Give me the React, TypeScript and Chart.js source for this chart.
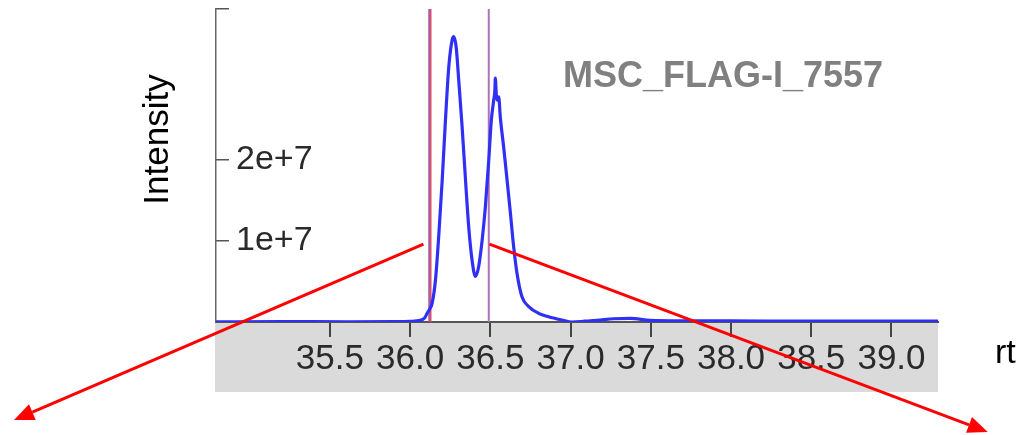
import React, { useEffect, useRef } from 'react';
import { Chart, registerables } from 'chart.js';

Chart.register(...registerables);

// ---- data ----
const RT: number[] = [
  34.79, 35.2, 35.6, 35.9, 36.0, 36.064, 36.09, 36.106, 36.122, 36.137, 36.158, 36.178, 36.2,
  36.22, 36.241, 36.262, 36.272, 36.287, 36.303, 36.324, 36.345, 36.365, 36.386, 36.407,
  36.427, 36.449, 36.469, 36.49, 36.506, 36.521, 36.528, 36.531, 36.537, 36.542, 36.552,
  36.562, 36.583, 36.604, 36.625, 36.645, 36.666, 36.697, 36.739, 36.801, 36.863, 36.946,
  37.009, 37.09, 37.164, 37.27, 37.372, 37.496, 37.683, 37.994, 38.43, 38.927, 39.29,
];
const INTENSITY: number[] = [
  0.003e7, 0.004e7, 0.003e7, 0.005e7, 0.008e7, 0.02e7, 0.05e7, 0.107e7, 0.16e7, 0.23e7, 0.52e7,
  1.05e7, 1.75e7, 2.48e7, 3.14e7, 3.47e7, 3.51e7, 3.38e7, 2.97e7, 2.4e7, 1.75e7, 1.17e7, 0.76e7,
  0.56e7, 0.68e7, 1.01e7, 1.42e7, 1.99e7, 2.48e7, 2.73e7, 2.85e7, 3.0e7, 2.8e7, 2.73e7, 2.77e7,
  2.52e7, 2.15e7, 1.75e7, 1.34e7, 0.93e7, 0.6e7, 0.31e7, 0.19e7, 0.107e7, 0.065e7, 0.025e7,
  0.0, 0.01e7, 0.02e7, 0.04e7, 0.045e7, 0.02e7, 0.015e7, 0.015e7, 0.01e7, 0.01e7, 0.01e7,
];
const X_TICKS: number[] = [35.5, 36.0, 36.5, 37.0, 37.5, 38.0, 38.5, 39.0];
const Y_TICKS: number[] = [1e7, 2e7];
const X_MIN = 34.79;
const X_MAX = 39.29;
const Y_MIN = 0;
const Y_MAX = 3.85e7;

// vertical boundary markers (retention times)
const MARKER_RT: number[] = [36.118, 36.127, 36.49];
const MARKER_COLORS: string[] = ['#a04a98', '#d8506e', '#b070b8'];
const MARKER_WIDTHS: number[] = [1.5, 2, 2];

// annotation arrows, in data units
const ARROW_FROM_RT: number[] = [36.083, 36.494];
const ARROW_FROM_I: number[] = [0.959e7, 0.959e7];
const ARROW_TO_RT: number[] = [33.531, 39.6];
const ARROW_TO_I: number[] = [-1.205e7, -1.352e7];

const TITLE = 'MSC_FLAG-I_7557';
const Y_TITLE = 'Intensity';
const X_TITLE = 'rt';

const FONT = '"Liberation Sans", Arial, sans-serif';

const annotationPlugin = {
  id: 'annotations',
  beforeDraw(chart: any) {
    const { ctx } = chart;
    const xs = chart.scales.x;
    ctx.save();
    ctx.fillStyle = '#ffffff';
    ctx.fillRect(0, 0, chart.width, chart.height);
    ctx.fillStyle = '#dadada';
    ctx.fillRect(xs.left - 1, xs.top, xs.right - xs.left + 1, xs.bottom - xs.top);
    ctx.restore();
  },
  afterDraw(chart: any) {
    const { ctx, chartArea } = chart;
    const xs = chart.scales.x;
    const ys = chart.scales.y;
    ctx.save();
    // title inside plot
    ctx.fillStyle = '#808080';
    ctx.font = `bold 36px ${FONT}`;
    ctx.textAlign = 'left';
    ctx.textBaseline = 'alphabetic';
    ctx.fillText(TITLE, xs.getPixelForValue(36.953), ys.getPixelForValue(2.89e7));

    // y axis title
    ctx.fillStyle = '#000000';
    ctx.font = `35px ${FONT}`;
    ctx.save();
    ctx.translate(chartArea.left - 48, (chartArea.top + chartArea.bottom) / 2 - 26);
    ctx.rotate(-Math.PI / 2);
    ctx.textAlign = 'center';
    ctx.textBaseline = 'alphabetic';
    ctx.fillText(Y_TITLE, 0, 0);
    ctx.restore();

    // x axis title
    ctx.textAlign = 'left';
    ctx.textBaseline = 'alphabetic';
    ctx.font = `34px ${FONT}`;
    ctx.fillText(X_TITLE, chartArea.right + 57, xs.bottom - 29);

    // arrows
    ctx.strokeStyle = '#ff0000';
    ctx.fillStyle = '#ff0000';
    ctx.lineWidth = 3;
    for (let i = 0; i < ARROW_FROM_RT.length; i++) {
      const x1 = xs.getPixelForValue(ARROW_FROM_RT[i]);
      const y1 = ys.getPixelForValue(ARROW_FROM_I[i]);
      const x2 = xs.getPixelForValue(ARROW_TO_RT[i]);
      const y2 = ys.getPixelForValue(ARROW_TO_I[i]);
      const ang = Math.atan2(y2 - y1, x2 - x1);
      const head = 20;
      const half = 8.5;
      const bx = x2 - head * Math.cos(ang);
      const by = y2 - head * Math.sin(ang);
      ctx.beginPath();
      ctx.moveTo(x1, y1);
      ctx.lineTo(bx, by);
      ctx.stroke();
      ctx.beginPath();
      ctx.moveTo(x2, y2);
      ctx.lineTo(bx + half * Math.sin(ang), by - half * Math.cos(ang));
      ctx.lineTo(bx - half * Math.sin(ang), by + half * Math.cos(ang));
      ctx.closePath();
      ctx.fill();
    }
    ctx.restore();
  },
};

export default function App() {
  const canvasRef = useRef<HTMLCanvasElement | null>(null);

  useEffect(() => {
    document.body.style.margin = '0';
    const canvas = canvasRef.current;
    if (!canvas) return;

    const markerSets = MARKER_RT.map((rt, i) => ({
      label: 'marker' + i,
      data: [
        { x: rt, y: Y_MIN },
        { x: rt, y: Y_MAX },
      ],
      borderColor: MARKER_COLORS[i],
      borderWidth: MARKER_WIDTHS[i],
      pointRadius: 0,
      fill: false,
    }));

    const chart = new Chart(canvas, {
      type: 'line',
      data: {
        datasets: [
          {
            label: 'intensity',
            data: RT.map((x, i) => ({ x, y: INTENSITY[i] })),
            borderColor: '#3030f4',
            borderWidth: 3.2,
            pointRadius: 0,
            fill: false,
            cubicInterpolationMode: 'monotone',
          },
          ...markerSets,
        ],
      },
      options: {
        responsive: false,
        animation: false,
        devicePixelRatio: 1,
        layout: { padding: { left: 216, top: 9, right: 83, bottom: 43 } },
        plugins: {
          legend: { display: false },
          tooltip: { enabled: false },
          title: { display: false },
        },
        scales: {
          x: {
            type: 'linear',
            position: 'bottom',
            min: X_MIN,
            max: X_MAX,
            afterBuildTicks: (scale: any) => {
              scale.ticks = X_TICKS.map((v) => ({ value: v }));
            },
            afterFit: (scale: any) => {
              scale.height = 70;
              scale.paddingLeft = 0;
              scale.paddingRight = 0;
            },
            grid: {
              drawOnChartArea: false,
              drawTicks: true,
              tickLength: 15,
              color: '#444444',
              lineWidth: 2,
            },
            border: { display: true, color: '#555555', width: 2 },
            ticks: {
              autoSkip: false,
              maxRotation: 0,
              minRotation: 0,
              padding: 1,
              color: '#2a2a2a',
              font: { family: FONT, size: 35 },
              callback: (v: any) => Number(v).toFixed(1),
            },
          },
          y: {
            type: 'linear',
            position: 'left',
            min: Y_MIN,
            max: Y_MAX,
            afterBuildTicks: (scale: any) => {
              scale.ticks = [...Y_TICKS, Y_MAX].map((v) => ({ value: v }));
            },
            afterFit: (scale: any) => {
              scale.width = 0;
              scale.paddingTop = 0;
              scale.paddingBottom = 0;
            },
            grid: {
              drawOnChartArea: false,
              drawTicks: true,
              tickLength: -13,
              color: '#555555',
              lineWidth: 1.5,
            },
            border: { display: true, color: '#666666', width: 1.5 },
            ticks: {
              mirror: true,
              padding: 20,
              color: '#2a2a2a',
              font: { family: FONT, size: 34 },
              callback: (v: any) => (Number(v) === Y_MAX ? '' : Number(v).toExponential()),
            },
          },
        },
      },
      plugins: [annotationPlugin],
    } as any);

    return () => chart.destroy();
  }, []);

  return (
    <div style={{ width: 1021, height: 435, position: 'relative' }}>
      <canvas ref={canvasRef} width={1021} height={435} style={{ display: 'block' }} />
    </div>
  );
}
